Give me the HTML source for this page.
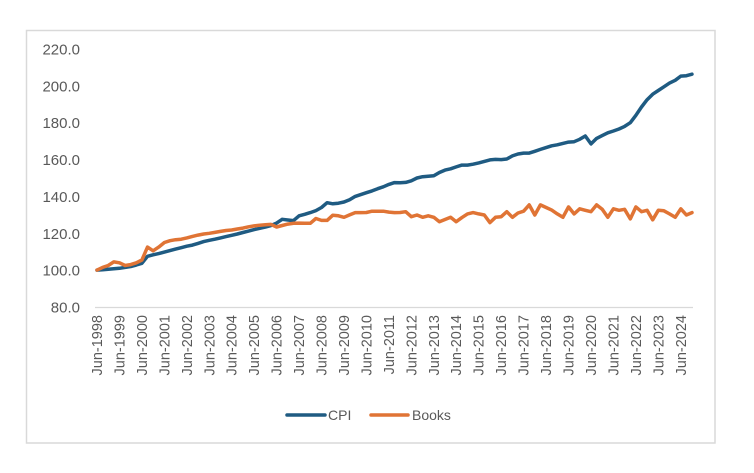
<!DOCTYPE html>
<html><head><meta charset="utf-8"><style>
body{margin:0;background:#fff;}
svg{display:block;font-family:"Liberation Sans",sans-serif;}
</style></head><body>
<svg id="chart" width="754" height="473" viewBox="0 0 754 473">
<rect x="26.5" y="30.5" width="688.5" height="412.5" fill="#fff" stroke="#d9d9d9" stroke-width="1.5"/>
<g id="yaxis"></g>
<g id="xaxis"></g>
<line x1="95" y1="307.5" x2="693" y2="307.5" stroke="#d9d9d9" stroke-width="1.2"/>
<g id="series"></g>
<g>
<g>
<line x1="287" y1="415" x2="325" y2="415" stroke="#1f5b82" stroke-width="3.5" stroke-linecap="round"/>
<text x="328" y="420" font-size="14" fill="#595959">CPI</text></g>
<g>
<line x1="371" y1="415" x2="408" y2="415" stroke="#e07435" stroke-width="3.5" stroke-linecap="round"/>
<text x="412" y="420" font-size="14" fill="#595959">Books</text></g>
</g>
</svg>
<script>
const yTicks=[80,100,120,140,160,180,200,220];
const yearLabels=[1998,1999,2000,2001,2002,2003,2004,2005,2006,2007,2008,2009,2010,2011,2012,2013,2014,2015,2016,2017,2018,2019,2020,2021,2022,2023,2024];
const cpi=[100,100.2,100.5,100.8,101,101.5,102,102.8,103.7,107.5,
108.3,109,109.8,110.6,111.4,112.2,113,113.6,114.5,115.5,
116.2,116.8,117.5,118.2,118.9,119.6,120.4,121.2,122,122.7,
123.4,124.2,125.5,127.6,127.2,126.9,129.5,130.3,131.2,132.3,
134,136.6,136,136.3,137,138.2,140,141,142,143,
144.2,145.2,146.5,147.5,147.4,147.6,148.5,150,150.7,151,
151.2,153,154.3,155,156,157,157,157.5,158.2,159,
159.8,160.1,160,160.3,162,163,163.5,163.5,164.5,165.5,
166.5,167.5,168,168.8,169.5,169.7,171,172.8,168.5,171.5,
173,174.5,175.5,176.6,178,180,184,188.5,192.5,195.5,
197.5,199.5,201.5,203,205.3,205.5,206.3];
const books=[100,101.5,102.5,104.5,104,102.5,103,104,105.5,112.5,
110.5,112.5,115,116,116.5,116.8,117.5,118.3,119,119.6,
120,120.5,121,121.5,121.8,122.3,122.8,123.5,124,124.4,
124.6,124.8,123.4,124.2,125,125.4,125.5,125.4,125.4,128,
127,127,129.8,129.5,128.7,130,131.2,131.2,131.3,132,
132,132,131.5,131.2,131.3,131.7,129,129.9,128.7,129.5,
128.7,126.3,127.5,128.7,126.3,128.5,130.5,131.2,130.5,129.9,
125.8,128.7,129,131.7,128.7,131,132,135.4,129.9,135.4,
134,132.6,130.5,128.7,134.3,130.5,133.3,132.5,131.7,135.4,
133,128.7,133.3,132.5,133,127.8,134.3,131.7,132.5,127.3,
132.5,132.2,130.5,128.7,133.3,129.9,131.2];
const NS="http://www.w3.org/2000/svg";
const x0=97,x1=692,yTop=49,yBot=307,vTop=220,vBot=80;
function xs(i,n){return x0+(x1-x0)*i/(n-1);}
function ys(v){return yBot-(v-vBot)/(vTop-vBot)*(yBot-yTop);}
const ya=document.getElementById('yaxis');
yTicks.forEach(v=>{
 const t=document.createElementNS(NS,'text');
 
 
 t.setAttribute('x',80);t.setAttribute('y',ys(v)+5.5);
 t.setAttribute('text-anchor','end');t.setAttribute('font-size','15');t.setAttribute('fill','#595959');
 t.textContent=v.toFixed(1);ya.appendChild(t);
});
const xa=document.getElementById('xaxis');
const n=cpi.length;
yearLabels.forEach((yr,k)=>{
 const x=xs(k*4,n);
 const t=document.createElementNS(NS,'text');
 
 
 t.setAttribute('transform','translate('+(x+5)+',315) rotate(-90)');
 t.setAttribute('text-anchor','end');t.setAttribute('font-size','14.5');t.setAttribute('fill','#595959');
 t.textContent='Jun-'+yr;xa.appendChild(t);
});
const sg=document.getElementById('series');
function line(data,color,name){
 const p=document.createElementNS(NS,'polyline');
 
 
 p.setAttribute('points',data.map((v,i)=>xs(i,data.length).toFixed(1)+','+ys(v).toFixed(1)).join(' '));
 p.setAttribute('fill','none');p.setAttribute('stroke',color);p.setAttribute('stroke-width','3.5');
 p.setAttribute('stroke-linejoin','round');p.setAttribute('stroke-linecap','round');
 sg.appendChild(p);
}
line(cpi,'#1f5b82','cpi-line');
line(books,'#e07435','books-line');
</script>
</body></html>
